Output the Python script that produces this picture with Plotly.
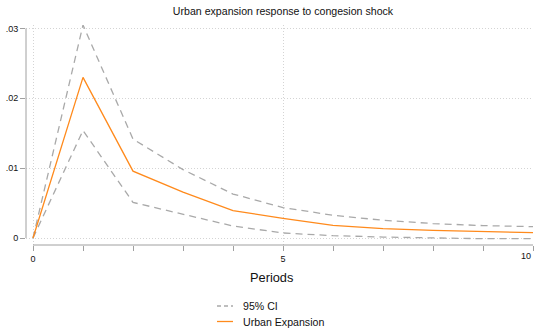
import plotly.graph_objects as go

# Impulse response of urban expansion to a congestion shock
periods = [0, 1, 2, 3, 4, 5, 6, 7, 8, 9, 10]
irf = [0.0, 0.0230, 0.00957, 0.00656, 0.00393, 0.00280, 0.00182, 0.00135, 0.00110, 0.00092, 0.00077]
ci_upper = [0.0, 0.0305, 0.01416, 0.00980, 0.00630, 0.00436, 0.00326, 0.00254, 0.00207, 0.00178, 0.00163]
ci_lower = [0.0, 0.0154, 0.00510, 0.00340, 0.00172, 0.00072, 0.00034, 0.00014, 0.00000, -0.00010, -0.00010]

y_ticks = [0, 0.01, 0.02, 0.03]
y_tick_labels = ["0", ".01", ".02", ".03"]
x_ticks = [0, 5, 10]
x_tick_labels = ["0", "5", ""]

ORANGE = "#ff8a1c"
GRAY = "#a9a9a9"
AXIS = "#a0a0a0"
GRID = "#d4d4d4"
TEXT = "#111111"
FONT = "Liberation Sans, Arial, sans-serif"
W, H = 537, 336
ML, MR, MT, MB = 26, 4, 25, 91


def px(x):
    """Horizontal page pixel -> paper fraction."""
    return (x - ML) / (W - ML - MR)


def py(y):
    """Vertical page pixel (from top) -> paper fraction."""
    return (H - MB - y) / (H - MT - MB)


fig = go.Figure()
fig.add_trace(go.Scatter(x=periods, y=ci_upper, mode="lines", name="95% CI",
                         line=dict(color=GRAY, width=1.3, dash="7px,5px"),
                         showlegend=False, cliponaxis=False))
fig.add_trace(go.Scatter(x=periods, y=ci_lower, mode="lines", name="95% CI",
                         line=dict(color=GRAY, width=1.3, dash="7px,5px"),
                         showlegend=False, cliponaxis=False))
fig.add_trace(go.Scatter(x=periods, y=irf, mode="lines", name="Urban Expansion",
                         line=dict(color=ORANGE, width=1.3),
                         showlegend=False, cliponaxis=False))

# Axis lines span only the data range
fig.add_shape(type="line", xref="paper", yref="y", x0=0, x1=0, y0=0, y1=0.03,
              line=dict(color=AXIS, width=1))
fig.add_shape(type="line", xref="x", yref="paper", x0=0, x1=10, y0=0, y1=0,
              line=dict(color=AXIS, width=1))

# Last x tick label sits flush left of its tick
fig.add_annotation(x=10, xref="x", y=py(255.5), yref="paper",
                   text="10", showarrow=False, xanchor="right", yanchor="middle",
                   font=dict(size=9, family=FONT, color=TEXT))

# Axis title
fig.add_annotation(x=px(271), xref="paper", y=py(277.5), yref="paper",
                   text="Periods", showarrow=False, xanchor="center", yanchor="middle",
                   font=dict(size=12.8, family=FONT, color=TEXT))

# Legend keys and labels
legend_rows = [("95% CI", GRAY, "4px,3px", 306), ("Urban Expansion", ORANGE, "solid", 321.5)]
for label, color, dash, yc in legend_rows:
    fig.add_shape(type="line", xref="paper", yref="paper",
                  x0=px(217), x1=px(233), y0=py(yc), y1=py(yc),
                  line=dict(color=color, width=1.3, dash=dash))
    fig.add_annotation(x=px(240.5), xref="paper", y=py(yc), yref="paper",
                       text=label, showarrow=False, xanchor="left", yanchor="middle",
                       font=dict(size=10.6, family=FONT, color=TEXT))

fig.update_layout(
    width=W, height=H,
    margin=dict(l=ML, r=MR, t=MT, b=MB),
    paper_bgcolor="white", plot_bgcolor="white",
    font=dict(family=FONT, color=TEXT, size=9),
    title=dict(text="Urban expansion response to congesion shock",
               x=283 / W, xanchor="center", y=1 - 11 / H, yanchor="middle",
               font=dict(size=10.6, family=FONT, color=TEXT)),
    showlegend=False,
)

fig.update_xaxes(
    range=[-0.14, 10], tickvals=x_ticks, ticktext=x_tick_labels, ticks="outside", ticklen=5,
    tickcolor=AXIS, tickwidth=1, showline=False, zeroline=False,
    showgrid=True, gridcolor=GRID, griddash="1px,2px", gridwidth=1,
    tickfont=dict(size=9, family=FONT), ticklabelstandoff=0,
    minor=dict(dtick=1, tick0=0, ticks="outside", ticklen=5, tickcolor=AXIS,
               showgrid=False),
)
fig.update_yaxes(
    range=[-0.001, 0.0305], tickvals=y_ticks, ticktext=y_tick_labels,
    ticks="outside", ticklen=5, tickcolor=AXIS, tickwidth=1,
    showline=False, zeroline=False,
    showgrid=True, gridcolor=GRID, griddash="1px,2px", gridwidth=1,
    tickfont=dict(size=9, family=FONT),
)

fig.write_html("out.html")
